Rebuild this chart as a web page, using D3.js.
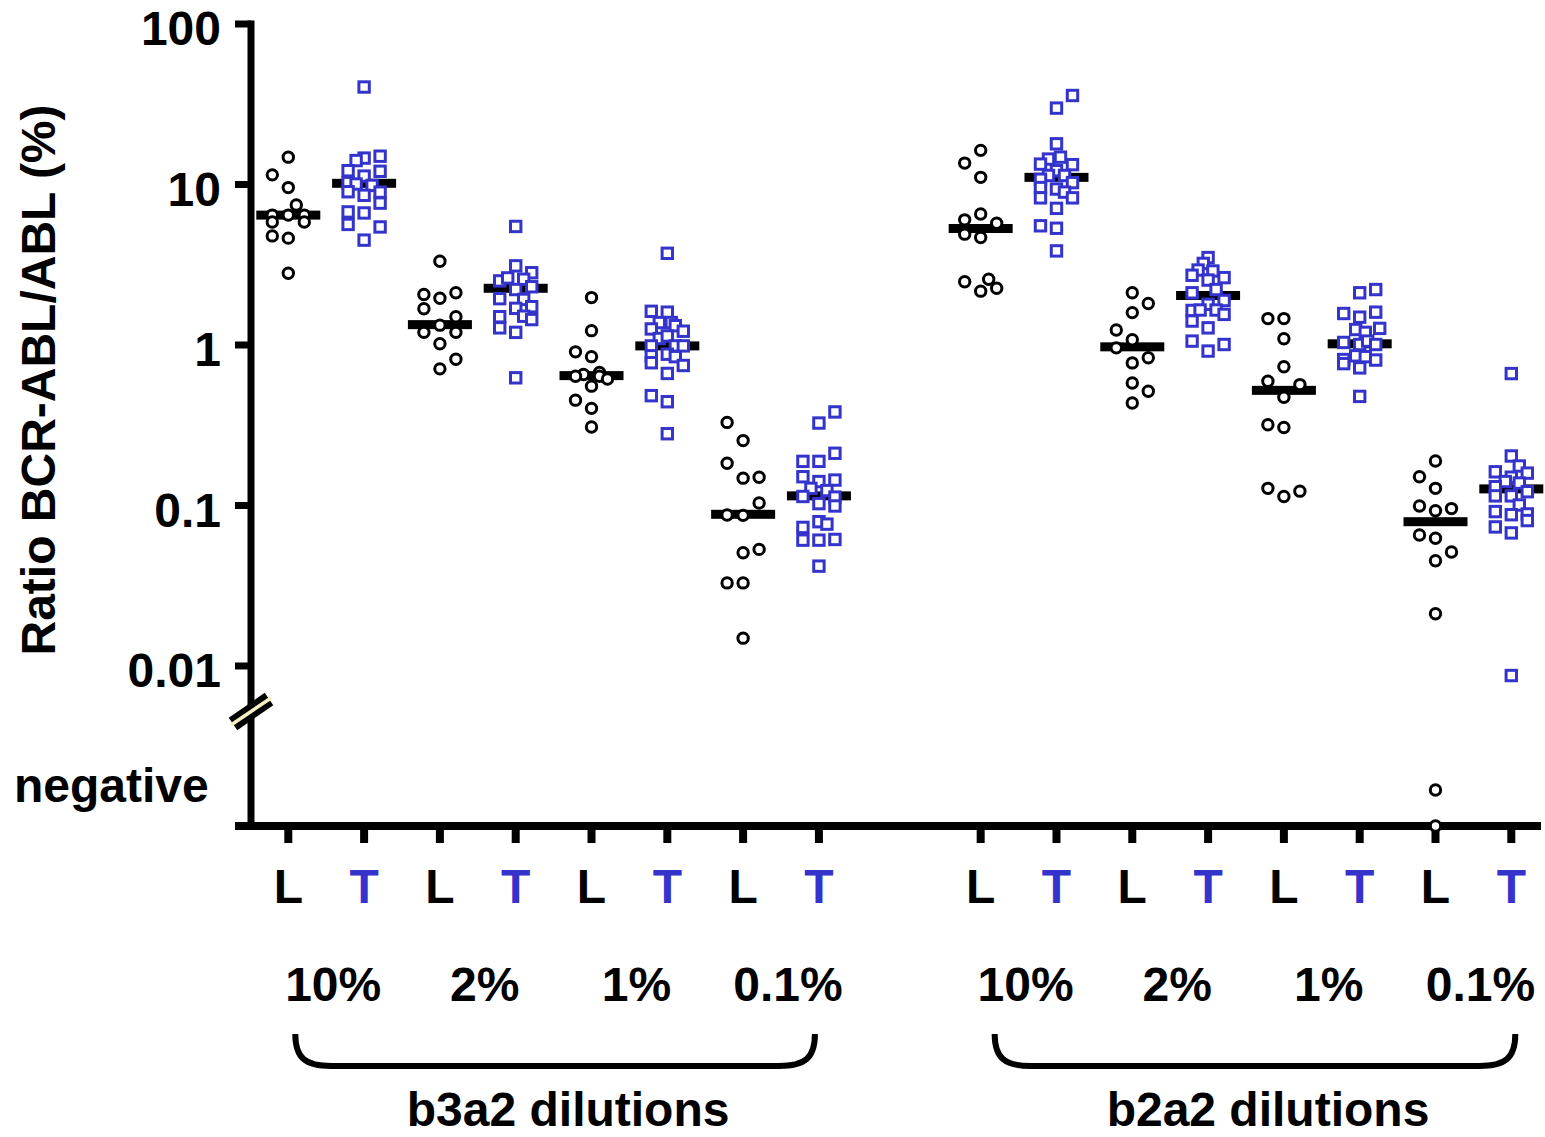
<!DOCTYPE html>
<html>
<head>
<meta charset="utf-8">
<script src="https://cdn.jsdelivr.net/npm/d3@7"></script>
<style>
  html, body { margin: 0; padding: 0; background: #fff; }
  svg text { font-family: "Liberation Sans", Arial, sans-serif; font-weight: bold; }
</style>
</head>
<body>
<svg id="chart" width="1545" height="1137"></svg>
<script>
// ---------------- DATA ----------------
const groups = ["b3a2 dilutions", "b2a2 dilutions"];
const dilutions = ["10%", "2%", "1%", "0.1%"];
const methods = ["L", "T"];
const yTickValues = [100, 10, 1, 0.1, 0.01];
const yTickLabels = ["100", "10", "1", "0.1", "0.01"];
const negativeLabel = "negative";
const yTitle = "Ratio BCR-ABL/ABL (%)";

// each point: [value, jitter slot]
const b3a2_10_L = [[14.7,0],[11.4,-2],[9.5,0],[7.4,1],[6.4,-2],[6.4,0],[6.4,2],[5.8,-2],[5.8,2],[4.75,-2],[4.6,0],[2.78,0]];
const b3a2_10_T = [[40.2,0],[14.9,2],[14.5,0],[14.0,-1],[12.1,-2],[12.0,2],[11.2,0],[10.2,-2],[10.0,-1],[9.8,1],[8.95,-2],[8.5,0],[8.9,2],[7.6,2],[6.7,-2],[6.6,0],[5.6,-2],[5.4,2],[4.47,0]];
const b3a2_2_L = [[3.3,0],[2.05,-2],[1.94,0],[2.1,2],[1.67,-2],[1.49,2],[1.32,0],[1.19,-2],[1.19,2],[1.01,0],[0.81,2],[0.705,0]];
const b3a2_2_T = [[5.44,0],[3.09,0],[2.8,2],[2.49,-2],[2.6,-1],[2.55,1],[2.29,2],[2.2,0],[1.93,-2],[1.91,1],[1.68,0],[1.72,2],[1.49,-2],[1.5,1],[1.43,2],[1.27,-2],[1.19,0],[0.62,0]];
const b3a2_1_L = [[1.96,0],[1.22,0],[0.9,-2],[0.84,0],[0.65,-1],[0.67,1],[0.634,-2],[0.634,1],[0.61,2],[0.55,0],[0.45,-2],[0.4,0],[0.306,0]];
const b3a2_1_T = [[3.7,0],[1.61,-2],[1.59,0],[1.37,-1],[1.37,0.5],[1.31,1],[1.25,-2],[1.21,2],[1.09,-1],[1.13,0],[0.98,-2],[0.98,1],[0.98,2],[0.87,0],[0.85,-2],[0.84,1],[0.77,-2],[0.74,2],[0.66,0],[0.48,-2],[0.44,0],[0.278,0]];
const b3a2_01_L = [[0.327,-2],[0.252,0],[0.182,-2],[0.147,0],[0.149,2],[0.103,2],[0.0866,-2],[0.0862,0],[0.0504,0],[0.0529,2],[0.0327,-2],[0.0327,0],[0.0148,0]];
const b3a2_01_T = [[0.38,2],[0.324,0],[0.21,2],[0.187,-2],[0.187,0],[0.15,-2],[0.14,0],[0.143,2],[0.127,-1],[0.123,1],[0.113,-2],[0.112,2],[0.102,0],[0.0986,2],[0.0787,0],[0.076,1],[0.0725,-2],[0.0604,-2],[0.0604,0],[0.061,2],[0.0416,0]];
const b2a2_10_L = [[16.2,0],[13.5,-2],[11.0,0],[6.5,0],[5.98,-2],[5.7,2],[4.87,-2],[4.64,0],[2.46,-2],[2.55,1],[2.15,0],[2.24,2]];
const b2a2_10_T = [[35.6,2],[29.7,0],[17.8,0],[14.3,-1],[14.7,0.5],[13.3,-2],[13.2,2],[12.1,0],[11.3,-1],[11.3,1],[10.7,-2],[10.2,2],[9.3,0],[9.5,-2],[8.9,1],[8.2,-2],[8.2,2],[7.05,0],[5.49,-2],[5.3,0],[3.83,0]];
const b2a2_2_L = [[2.1,0],[1.8,2],[1.58,0],[1.23,-2],[1.07,0],[0.953,-2],[0.826,2],[0.768,0],[0.575,0],[0.511,2],[0.432,0]];
const b2a2_2_T = [[3.48,0],[3.2,-0.6],[2.91,-1.25],[2.87,0.6],[2.7,-2],[2.61,2],[2.52,0],[2.1,-2],[2.2,1],[1.88,2],[1.78,0],[1.63,-2],[1.64,-1],[1.64,1],[1.54,2],[1.4,-2],[1.27,0],[1.05,-2],[1.0,2],[0.91,0]];
const b2a2_1_L = [[1.45,-2],[1.45,0],[1.085,0],[0.726,0],[0.59,-2],[0.5625,2],[0.469,0],[0.316,-2],[0.304,0],[0.127,-2],[0.113,0],[0.122,2]];
const b2a2_1_T = [[2.2,2],[2.1,0],[1.56,-2],[1.48,0],[1.59,2],[1.26,2.5],[1.24,-0.5],[1.19,0.7],[1.03,-2],[1.0,0],[1.05,1],[1.0,2],[0.806,-2],[0.85,-0.5],[0.84,0.7],[0.8,2],[0.76,-2],[0.715,0],[0.475,0]];
const b2a2_01_L = [[0.188,0],[0.15,-2],[0.127,0],[0.0986,-2],[0.092,0],[0.095,2],[0.065,-2],[0.062,0],[0.051,2],[0.0449,0],[0.021,0]];
const b2a2_01_T = [[0.659,0],[0.202,0],[0.175,1],[0.161,-2],[0.158,2],[0.149,0],[0.14,-0.75],[0.137,1],[0.13,-2],[0.121,2],[0.114,0],[0.114,-2],[0.1,1],[0.091,-2],[0.088,2],[0.087,0],[0.08,2],[0.073,-2],[0.067,0],[0.00866,0]];

const medians_b3a2_L = [6.4, 1.33, 0.64, 0.0875];
const medians_b3a2_T = [10.1, 2.24, 0.98, 0.114];
const medians_b2a2_L = [5.28, 0.967, 0.518, 0.0787];
const medians_b2a2_T = [11.0, 2.02, 1.01, 0.126];

// number of negative samples per dilution
const negatives_b3a2_L = [0, 0, 0, 0];
const negatives_b3a2_T = [0, 0, 0, 0];
const negatives_b2a2_L = [0, 0, 0, 2];
const negatives_b2a2_T = [0, 0, 0, 0];

// ---------------- BUILD ----------------
const pointSets = [
  [b3a2_10_L, b3a2_10_T, b3a2_2_L, b3a2_2_T, b3a2_1_L, b3a2_1_T, b3a2_01_L, b3a2_01_T],
  [b2a2_10_L, b2a2_10_T, b2a2_2_L, b2a2_2_T, b2a2_1_L, b2a2_1_T, b2a2_01_L, b2a2_01_T]
];
const medianSets = [[medians_b3a2_L, medians_b3a2_T], [medians_b2a2_L, medians_b2a2_T]];
const negSets = [[negatives_b3a2_L, negatives_b3a2_T], [negatives_b2a2_L, negatives_b2a2_T]];

const GAP = 1.134;
const columns = [];
groups.forEach((g, gi) => {
  dilutions.forEach((d, di) => {
    methods.forEach((m, mi) => {
      const idx = gi * 8 + di * 2 + mi;
      columns.push({
        group: gi, dil: di, method: m, idx,
        pos: idx + (gi === 1 ? GAP : 0),
        points: pointSets[gi][di * 2 + mi],
        median: medianSets[gi][mi][di],
        negatives: negSets[gi][mi][di]
      });
    });
  });
});

const BLUE = "#3434cc";
const colorOf = m => m === "T" ? BLUE : "#000";
const FS = 48;

const svg = d3.select("#chart");

const x = d3.scaleLinear().domain([0, 15 + GAP]).range([288.3, 1511.3]);
const step = x(1) - x(0);
const slotW = 8 / step; // jitter slot width in column units
const y = d3.scaleLog().domain([0.01, 100]).range([665.5, 23.5]);
const yNeg = d3.scaleLinear().domain([0, 1]).range([826, 790]);

const axisX = 251;
const baseY = 826;

// y axis line
svg.append("line")
  .attr("x1", axisX).attr("x2", axisX)
  .attr("y1", 20.5).attr("y2", baseY + 3.5)
  .attr("stroke", "#000").attr("stroke-width", 7);

// y axis ticks via d3 axis
const yAxis = d3.axisLeft(y).tickValues(yTickValues).tickSize(16)
  .tickFormat((d, i) => yTickLabels[i]).tickPadding(14);
const gy = svg.append("g").attr("transform", `translate(${axisX},0)`).call(yAxis);
gy.select(".domain").remove();
gy.selectAll(".tick line").attr("stroke", "#000").attr("stroke-width", 7);
gy.selectAll(".tick text")
  .attr("font-size", FS).attr("fill", "#000").attr("dy", "0.44em")
  .style("font-family", '"Liberation Sans", Arial, sans-serif').style("font-weight", "bold");

// axis break symbol
const brk = svg.append("g");
brk.append("line")
  .attr("x1", axisX - 18).attr("y1", 724).attr("x2", axisX + 18).attr("y2", 699)
  .attr("stroke", "#000").attr("stroke-width", 15);
brk.append("line")
  .attr("x1", axisX - 20).attr("y1", 725).attr("x2", axisX + 20).attr("y2", 698)
  .attr("stroke", "#f6f0c4").attr("stroke-width", 3.5);

// negative label
svg.append("text")
  .attr("x", 14).attr("y", 802)
  .attr("font-size", FS).attr("fill", "#000")
  .text(negativeLabel);

// y title
svg.append("text")
  .attr("transform", "translate(55,380) rotate(-90)")
  .attr("text-anchor", "middle")
  .attr("font-size", FS).attr("fill", "#000")
  .text(yTitle);

// x axis line
svg.append("line")
  .attr("x1", axisX - 16).attr("x2", 1541)
  .attr("y1", baseY).attr("y2", baseY)
  .attr("stroke", "#000").attr("stroke-width", 8);

// x ticks and L/T labels
const colG = svg.append("g").selectAll("g").data(columns).join("g");
colG.append("line")
  .attr("x1", d => x(d.pos)).attr("x2", d => x(d.pos))
  .attr("y1", baseY).attr("y2", baseY + 17)
  .attr("stroke", "#000").attr("stroke-width", 8);
colG.append("text")
  .attr("x", d => x(d.pos)).attr("y", 903)
  .attr("text-anchor", "middle")
  .attr("font-size", FS)
  .attr("fill", d => colorOf(d.method))
  .text(d => d.method);

// dilution labels
const pairs = [];
groups.forEach((g, gi) => dilutions.forEach((dl, di) => {
  pairs.push({ label: dl, pos: gi * 8 + di * 2 + 0.5 + (gi === 1 ? GAP : 0) });
}));
svg.append("g").selectAll("text").data(pairs).join("text")
  .attr("x", d => x(d.pos) + 7).attr("y", 1001)
  .attr("text-anchor", "middle")
  .attr("font-size", FS).attr("fill", "#000")
  .text(d => d.label);

// brackets + group labels
groups.forEach((g, gi) => {
  const first = gi * 8 + (gi === 1 ? GAP : 0);
  const last = first + 7;
  const x0 = x(first) + (gi === 0 ? 7 : 14);
  const x1 = x(last) + (gi === 0 ? -4 : 4);
  const top = 1034, bot = 1066, r = 36;
  svg.append("path")
    .attr("d", `M${x0},${top} C${x0},${bot - 8} ${x0 + 10},${bot} ${x0 + r},${bot} L${x1 - r},${bot} C${x1 - 10},${bot} ${x1},${bot - 8} ${x1},${top}`)
    .attr("fill", "none").attr("stroke", "#000").attr("stroke-width", 6);
  svg.append("text")
    .attr("x", (x0 + x1) / 2 + 13).attr("y", 1126)
    .attr("text-anchor", "middle")
    .attr("font-size", FS).attr("fill", "#000")
    .text(g);
});

// median bars
svg.append("g").selectAll("rect").data(columns).join("rect")
  .attr("x", d => x(d.pos) - 32).attr("width", 64)
  .attr("y", d => y(d.median) - 4.5).attr("height", 9)
  .attr("fill", "#000");

// points
const flat = [];
columns.forEach(c => {
  c.points.forEach(p => flat.push({ method: c.method, px: x(c.pos + p[1] * slotW), py: y(p[0]) }));
  for (let k = 0; k < c.negatives; k++) flat.push({ method: c.method, px: x(c.pos), py: yNeg(k) });
});

const pts = svg.append("g");
pts.selectAll("circle").data(flat.filter(d => d.method === "L")).join("circle")
  .attr("cx", d => d.px).attr("cy", d => d.py).attr("r", 5.2)
  .attr("fill", "#fff").attr("stroke", "#000").attr("stroke-width", 3);
pts.selectAll("rect").data(flat.filter(d => d.method === "T")).join("rect")
  .attr("x", d => d.px - 5.2).attr("y", d => d.py - 5.2)
  .attr("width", 10.4).attr("height", 10.4)
  .attr("fill", "#fff").attr("stroke", BLUE).attr("stroke-width", 3);
</script>
</body>
</html>
